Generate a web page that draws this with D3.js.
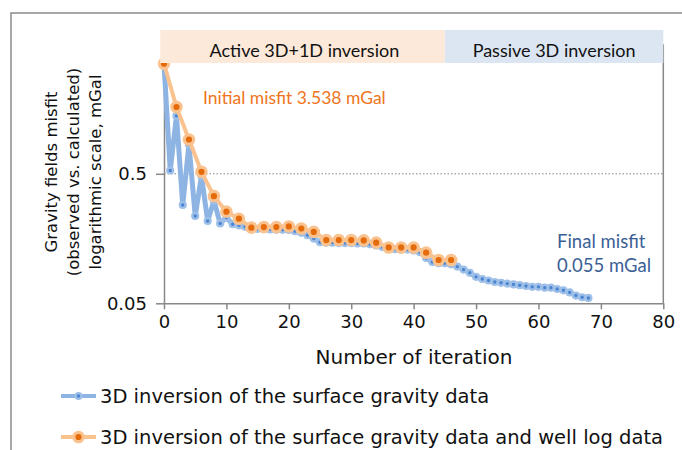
<!DOCTYPE html>
<html>
<head>
<meta charset="utf-8">
<script src="https://cdn.jsdelivr.net/npm/d3@7"></script>
<style>
  body { margin: 0; background: #fff; }
  svg { display: block; }
</style>
</head>
<body>
<svg id="chart" width="682" height="450"></svg>
<script>
// misfit per iteration, 3D inversion of surface gravity only (iteration = array index)
const surfaceMisfit = [
  3.538, 0.53, 1.40, 0.287, 0.84, 0.236, 0.48, 0.216, 0.31, 0.207,
  0.23, 0.204, 0.200, 0.195, 0.190, 0.188, 0.187, 0.186, 0.185, 0.185,
  0.184, 0.180, 0.175, 0.168, 0.158, 0.148, 0.147, 0.147, 0.146, 0.146,
  0.146, 0.145, 0.145, 0.143, 0.140, 0.136, 0.132, 0.131, 0.130, 0.130,
  0.128, 0.124, 0.112, 0.104, 0.102, 0.102, 0.100, 0.096, 0.091, 0.086,
  0.080, 0.077, 0.075, 0.073, 0.072, 0.071, 0.070, 0.069, 0.068, 0.067,
  0.067, 0.066, 0.066, 0.0645, 0.063, 0.0607, 0.0574, 0.0557, 0.055
];

// surface gravity + well log inversion, every second iteration
const wellIter = [0, 2, 4, 6, 8, 10, 12, 14, 16, 18, 20, 22, 24, 26, 28, 30, 32, 34, 36, 38, 40, 42, 44, 46];
const wellMisfit = [
  3.538, 1.64, 0.92, 0.518, 0.336, 0.255, 0.225, 0.192, 0.194, 0.194,
  0.196, 0.189, 0.178, 0.154, 0.154, 0.154, 0.153, 0.147, 0.135, 0.135,
  0.135, 0.123, 0.108, 0.108
];

const xTicks = [0, 10, 20, 30, 40, 50, 60, 70, 80];
const yTicks = [0.05, 0.5];
const yTickLabels = ['0.05', '0.5'];

// stage bands along the iteration axis
const stages = [
  { name: 'Active 3D+1D inversion', from: -0.6, to: 45 },
  { name: 'Passive 3D inversion', from: 45, to: 80 }
];

const legendLabels = [
  '3D inversion of the surface gravity data',
  '3D inversion of the surface gravity data and well log data'
];

const svg = d3.select('#chart');

const plotL = 164, plotR = 663.3, plotT = 44.3, plotB = 303.3;

const x = d3.scaleLinear().domain([0, 80]).range([plotL, plotR]);
const y = d3.scaleLog().domain([0.05, 5]).range([plotB, plotT]);

const axisColor = '#888888';
const blueLine = '#8db4e2', blueDot = '#4a84d0', blueHalo = '#9ebfe8';
const orangeLine = '#fac28f', orangeDot = '#e56b0a';
const tickFont = '"DejaVu Sans", Verdana, sans-serif';
const calibri = 'Lato, "Open Sans", sans-serif';

// outer figure frame
svg.append('path')
  .attr('d', 'M11,460 L11,13 L700,13')
  .attr('fill', 'none')
  .attr('stroke', '#8c8c8c')
  .attr('stroke-width', 1.5);

// reference line at 0.5
svg.append('line')
  .attr('x1', plotL).attr('x2', plotR)
  .attr('y1', y(0.5)).attr('y2', y(0.5))
  .attr('stroke', '#7f7f7f')
  .attr('stroke-width', 1)
  .attr('stroke-dasharray', '1.5,2');

// axes
const xAxis = svg.append('g')
  .attr('transform', `translate(0,${plotB})`)
  .call(d3.axisBottom(x).tickValues(xTicks).tickSize(6).tickPadding(6).tickSizeOuter(0));

const yAxis = svg.append('g')
  .attr('transform', `translate(${plotL},0)`)
  .call(d3.axisLeft(y).tickValues(yTicks).tickFormat((d, i) => yTickLabels[i]).tickSize(8).tickPadding(9).tickSizeOuter(0));

[xAxis, yAxis].forEach(g => {
  g.select('.domain').attr('stroke', axisColor).attr('stroke-width', 1.5);
  g.selectAll('.tick line').attr('stroke', axisColor).attr('stroke-width', 1.5);
  g.selectAll('.tick text')
    .attr('fill', '#111')
    .attr('font-family', tickFont)
    .attr('font-size', 18);
});

// right border of the plot
svg.append('line')
  .attr('x1', plotR).attr('x2', plotR)
  .attr('y1', plotT).attr('y2', plotB)
  .attr('stroke', axisColor)
  .attr('stroke-width', 1.5);

// series 1 - surface gravity only
const blueData = surfaceMisfit.map((v, i) => [i, v]);
const line = d3.line().x(d => x(d[0])).y(d => y(d[1]));

svg.append('path')
  .datum(blueData)
  .attr('d', line)
  .attr('fill', 'none')
  .attr('stroke', blueLine)
  .attr('stroke-width', 5)
  .attr('stroke-linejoin', 'round');

svg.append('g')
  .selectAll('circle')
  .data(blueData)
  .join('circle')
    .attr('cx', d => x(d[0]))
    .attr('cy', d => y(d[1]))
    .attr('r', 2.9)
    .attr('fill', blueDot)
    .attr('stroke', blueHalo)
    .attr('stroke-width', 2.4);

// series 2 - with well log data
const orangeData = wellIter.map((it, i) => [it, wellMisfit[i]]);

svg.append('path')
  .datum(orangeData)
  .attr('d', line)
  .attr('fill', 'none')
  .attr('stroke', orangeLine)
  .attr('stroke-width', 4)
  .attr('stroke-linejoin', 'round');

svg.append('g')
  .selectAll('circle')
  .data(orangeData)
  .join('circle')
    .attr('cx', d => x(d[0]))
    .attr('cy', d => y(d[1]))
    .attr('r', 4.7)
    .attr('fill', orangeDot)
    .attr('stroke', orangeLine)
    .attr('stroke-width', 3.2);

// stage bands on top (they hide the top of the plot area)
const bandColors = ['#fde9da', '#dce6f2'];
const bands = svg.append('g');
bands.selectAll('rect')
  .data(stages)
  .join('rect')
    .attr('x', d => x(d.from))
    .attr('width', d => x(d.to) - x(d.from))
    .attr('y', 30)
    .attr('height', 33)
    .attr('fill', (d, i) => bandColors[i]);

bands.selectAll('text')
  .data(stages)
  .join('text')
    .attr('x', d => (x(Math.max(d.from, 0)) + x(d.to)) / 2)
    .attr('y', 57)
    .attr('text-anchor', 'middle')
    .attr('font-family', calibri)
    .attr('font-size', 18)
    .attr('fill', '#111')
    .text(d => d.name);

// annotations
svg.append('text')
  .attr('x', 203)
  .attr('y', 104)
  .attr('font-family', calibri)
  .attr('font-size', 17.5)
  .attr('fill', '#ee7420')
  .text('Initial misfit 3.538 mGal');

const finalNote = svg.append('text')
  .attr('font-family', calibri)
  .attr('font-size', 18.5)
  .attr('fill', '#3b5f96');
finalNote.append('tspan').attr('x', 557).attr('y', 248).text('Final misfit');
finalNote.append('tspan').attr('x', 557).attr('y', 272).text('0.055 mGal');

// axis titles
svg.append('text')
  .attr('x', 414)
  .attr('y', 364)
  .attr('text-anchor', 'middle')
  .attr('font-family', tickFont)
  .attr('font-size', 20)
  .attr('fill', '#111')
  .text('Number of iteration');

const yTitle = svg.append('text')
  .attr('transform', 'translate(0,172) rotate(-90)')
  .attr('text-anchor', 'middle')
  .attr('font-family', tickFont)
  .attr('font-size', 16.5)
  .attr('fill', '#111');
['Gravity fields misfit', '(observed vs. calculated)', 'logarithmic scale, mGal'].forEach((t, i) => {
  yTitle.append('tspan').attr('x', 0).attr('y', 57 + i * 22).text(t);
});

// legend
const legend = svg.append('g').attr('transform', 'translate(61,0)');
const rows = [
  { y: 396, line: blueLine, lw: 4, dot: blueDot, halo: blueHalo, r: 2.9, sw: 2.4 },
  { y: 437, line: orangeLine, lw: 4, dot: orangeDot, halo: orangeLine, r: 4.7, sw: 3.2 }
];
rows.forEach((r, i) => {
  legend.append('line')
    .attr('x1', 0).attr('x2', 35)
    .attr('y1', r.y).attr('y2', r.y)
    .attr('stroke', r.line)
    .attr('stroke-width', r.lw);
  legend.append('circle')
    .attr('cx', 17.5).attr('cy', r.y)
    .attr('r', r.r)
    .attr('fill', r.dot)
    .attr('stroke', r.halo)
    .attr('stroke-width', r.sw);
  legend.append('text')
    .attr('x', 39)
    .attr('y', r.y + 7)
    .attr('font-family', tickFont)
    .attr('font-size', 19.5)
    .attr('fill', '#111')
    .text(legendLabels[i]);
});
</script>
</body>
</html>
